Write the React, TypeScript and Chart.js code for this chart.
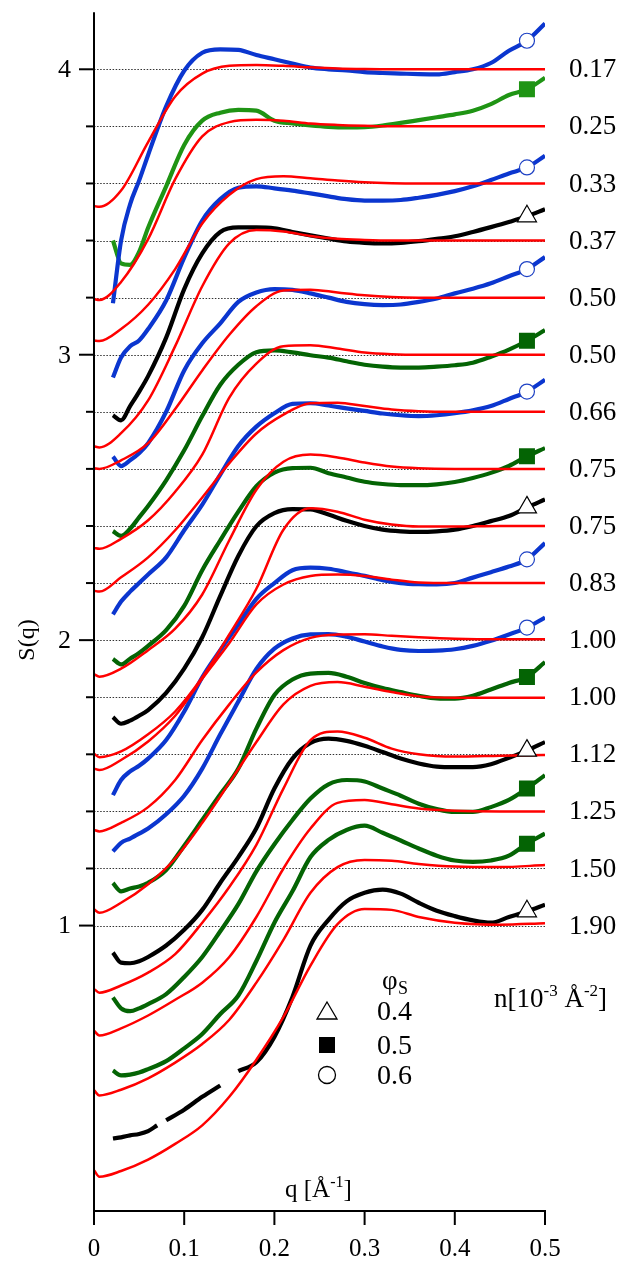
import React, { useEffect, useRef } from "react";
import { Chart, registerables } from "chart.js";

Chart.register(...registerables);

// ---------- labels / axis values ----------
const nLabels = ["0.17", "0.25", "0.33", "0.37", "0.50", "0.50", "0.66", "0.75", "0.75", "0.83", "1.00", "1.00", "1.12", "1.25", "1.50", "1.90"];
const baselineLevels = [4.0, 3.8, 3.6, 3.4, 3.2, 3.0, 2.8, 2.6, 2.4, 2.2, 2.0, 1.8, 1.6, 1.4, 1.2, 1.0];
const yTickValues = [1, 2, 3, 4];
const xTickValues = [0, 0.1, 0.2, 0.3, 0.4, 0.5];
const xTickLabels = ["0", "0.1", "0.2", "0.3", "0.4", "0.5"];
const phiLegendLabels = ["0.4", "0.5", "0.6"];
const phiLegendMarkers = ["triangle", "rect", "circle"];

const BLUE = "#0b36cf";
const GREEN_L = "#1f9414";
const GREEN_D = "#046404";
const BLACK = "#000000";
const seriesColors = [BLUE, GREEN_L, BLUE, BLACK, BLUE, GREEN_D, BLUE, GREEN_D, BLACK, BLUE, BLUE, GREEN_D, BLACK, GREEN_D, GREEN_D, BLACK];
const seriesMarkers = ["circle", "rect", "circle", "triangle", "circle", "rect", "circle", "rect", "triangle", "circle", "circle", "rect", "triangle", "rect", "rect", "triangle"];
const markerQ = 0.48;

// ---------- model curves (red), S(q) before vertical offset ----------
const qModel = [0, 0.006, 0.03, 0.06, 0.09, 0.12, 0.15, 0.18, 0.21, 0.24, 0.27, 0.30, 0.33, 0.36, 0.40, 0.45, 0.50];
const model0 = [0.521, 0.518, 0.575, 0.745, 0.905, 0.985, 1.012, 1.015, 1.012, 1.007, 1.003, 1.001, 1.0, 1.0, 1.0, 1.0, 1.0];
const model1 = [0.395, 0.392, 0.455, 0.605, 0.815, 0.965, 1.015, 1.023, 1.02, 1.01, 1.005, 1.002, 1.0, 1.0, 1.0, 1.0, 1.0];
const model2 = [0.45, 0.448, 0.49, 0.575, 0.70, 0.86, 0.96, 1.015, 1.025, 1.018, 1.01, 1.004, 1.001, 1.0, 1.0, 1.0, 1.0];
const model3 = [0.279, 0.275, 0.325, 0.44, 0.63, 0.84, 0.99, 1.037, 1.032, 1.016, 1.006, 1.002, 1.0, 1.0, 1.0, 1.0, 1.0];
const model4 = [0.402, 0.40, 0.43, 0.49, 0.61, 0.745, 0.87, 0.97, 1.025, 1.028, 1.018, 1.008, 1.002, 1.0, 1.0, 1.0, 1.0];
const model5 = [0.323, 0.32, 0.355, 0.42, 0.52, 0.65, 0.85, 0.969, 1.03, 1.033, 1.022, 1.008, 1.002, 1.0, 1.0, 1.0, 1.0];
const model6 = [0.373, 0.37, 0.42, 0.49, 0.585, 0.70, 0.82, 0.924, 0.99, 1.03, 1.032, 1.02, 1.008, 1.002, 1.0, 1.0, 1.0];
const model7 = [0.281, 0.272, 0.30, 0.365, 0.44, 0.56, 0.75, 0.927, 1.025, 1.05, 1.04, 1.022, 1.008, 1.002, 1.0, 1.0, 1.0];
const model8 = [0.202, 0.19, 0.21, 0.27, 0.35, 0.47, 0.62, 0.78, 0.987, 1.062, 1.05, 1.022, 1.005, 0.998, 0.998, 1.0, 1.0];
const model9 = [0.35, 0.345, 0.38, 0.445, 0.535, 0.665, 0.79, 0.925, 0.995, 1.025, 1.03, 1.025, 1.012, 1.002, 1.0, 1.0, 1.0];
const model10 = [0.335, 0.33, 0.36, 0.415, 0.51, 0.65, 0.775, 0.887, 0.965, 1.008, 1.02, 1.021, 1.015, 1.01, 1.005, 1.003, 1.003];
const model11 = [0.257, 0.245, 0.28, 0.345, 0.435, 0.56, 0.70, 0.843, 0.975, 1.04, 1.053, 1.037, 1.018, 1.003, 0.998, 0.998, 0.998];
const model12 = [0.178, 0.165, 0.19, 0.235, 0.30, 0.41, 0.535, 0.683, 0.88, 1.05, 1.08, 1.058, 1.02, 1.0, 0.992, 0.995, 0.998];
const model13 = [0.232, 0.215, 0.24, 0.285, 0.34, 0.40, 0.49, 0.63, 0.80, 0.94, 1.03, 1.04, 1.025, 1.01, 1.002, 1.0, 1.0];
const model14 = [0.223, 0.205, 0.225, 0.265, 0.32, 0.385, 0.47, 0.60, 0.75, 0.915, 1.005, 1.03, 1.027, 1.016, 1.007, 1.005, 1.012];
const model15 = [0.143, 0.12, 0.14, 0.18, 0.235, 0.30, 0.40, 0.53, 0.68, 0.86, 1.005, 1.058, 1.055, 1.03, 1.01, 1.003, 1.008];

// ---------- measured S(q), before vertical offset ----------
const qData = [0.021, 0.03, 0.04, 0.05, 0.06, 0.08, 0.10, 0.12, 0.14, 0.16, 0.18, 0.20, 0.22, 0.24, 0.26, 0.28, 0.30, 0.32, 0.34, 0.36, 0.38, 0.40, 0.42, 0.44, 0.46, 0.48, 0.50];
const data0 = [0.18, 0.40, 0.527, 0.61, 0.70, 0.87, 0.995, 1.058, 1.07, 1.068, 1.05, 1.035, 1.02, 1.006, 1.0, 0.996, 0.99, 0.987, 0.985, 0.983, 0.982, 0.99, 1.0, 1.022, 1.065, 1.10, 1.16];
const data1 = [0.60, 0.52, 0.515, 0.56, 0.645, 0.79, 0.935, 1.02, 1.048, 1.058, 1.055, 1.02, 1.01, 1.003, 0.998, 0.996, 0.997, 1.003, 1.012, 1.022, 1.032, 1.042, 1.055, 1.078, 1.11, 1.13, 1.17];
const data2 = [0.32, 0.39, 0.43, 0.45, 0.49, 0.59, 0.74, 0.87, 0.945, 0.985, 0.99, 0.983, 0.975, 0.965, 0.955, 0.945, 0.94, 0.94, 0.942, 0.95, 0.96, 0.973, 0.99, 1.012, 1.035, 1.056, 1.097];
const data3 = [0.388, 0.37, 0.42, 0.47, 0.525, 0.66, 0.83, 0.955, 1.03, 1.046, 1.046, 1.043, 1.03, 1.018, 1.007, 0.997, 0.992, 0.99, 0.992, 0.998, 1.006, 1.015, 1.03, 1.047, 1.065, 1.085, 1.11];
const data4 = [0.443, 0.41, 0.43, 0.455, 0.49, 0.60, 0.745, 0.84, 0.91, 0.985, 1.018, 1.03, 1.027, 1.015, 1.0, 0.985, 0.977, 0.974, 0.976, 0.985, 0.997, 1.015, 1.031, 1.05, 1.075, 1.10, 1.142];
const data5 = [0.382, 0.365, 0.39, 0.43, 0.47, 0.56, 0.665, 0.785, 0.895, 0.965, 1.009, 1.015, 1.008, 0.998, 0.99, 0.977, 0.965, 0.958, 0.955, 0.955, 0.958, 0.963, 0.972, 0.993, 1.018, 1.049, 1.086];
const data6 = [0.29, 0.335, 0.37, 0.40, 0.43, 0.49, 0.585, 0.675, 0.78, 0.88, 0.948, 0.995, 1.028, 1.03, 1.022, 1.012, 1.003, 0.994, 0.988, 0.985, 0.988, 0.995, 1.005, 1.02, 1.045, 1.071, 1.112];
const data7 = [0.334, 0.315, 0.335, 0.355, 0.38, 0.435, 0.52, 0.645, 0.75, 0.85, 0.939, 0.987, 1.003, 1.004, 0.985, 0.97, 0.955, 0.947, 0.943, 0.943, 0.946, 0.954, 0.968, 0.986, 1.01, 1.044, 1.073];
const data8 = [0.33, 0.307, 0.318, 0.335, 0.355, 0.415, 0.50, 0.61, 0.755, 0.895, 0.999, 1.045, 1.059, 1.058, 1.04, 1.018, 1.0, 0.987, 0.981, 0.979, 0.981, 0.987, 1.0, 1.017, 1.035, 1.065, 1.093];
const data9 = [0.257, 0.31, 0.34, 0.36, 0.385, 0.45, 0.55, 0.67, 0.765, 0.855, 0.945, 1.0, 1.045, 1.054, 1.05, 1.038, 1.025, 1.01, 1.0, 0.996, 0.995, 1.0, 1.019, 1.038, 1.058, 1.083, 1.14];
const data10 = [0.26, 0.29, 0.305, 0.322, 0.34, 0.39, 0.455, 0.55, 0.67, 0.785, 0.899, 0.97, 1.006, 1.02, 1.021, 1.012, 0.995, 0.978, 0.966, 0.962, 0.963, 0.968, 0.98, 0.998, 1.02, 1.044, 1.079];
const data11 = [0.349, 0.32, 0.33, 0.337, 0.35, 0.395, 0.48, 0.57, 0.66, 0.75, 0.89, 1.008, 1.062, 1.083, 1.085, 1.072, 1.05, 1.032, 1.018, 1.005, 0.996, 0.995, 1.005, 1.027, 1.05, 1.071, 1.123];
const data12 = [0.305, 0.27, 0.268, 0.275, 0.29, 0.33, 0.385, 0.455, 0.55, 0.64, 0.741, 0.88, 0.985, 1.04, 1.055, 1.047, 1.03, 1.008, 0.985, 0.968, 0.957, 0.955, 0.955, 0.965, 0.988, 1.013, 1.043];
const data13 = [0.348, 0.31, 0.30, 0.31, 0.325, 0.36, 0.42, 0.49, 0.58, 0.675, 0.79, 0.885, 0.97, 1.045, 1.095, 1.11, 1.105, 1.08, 1.055, 1.027, 1.008, 0.998, 0.998, 1.015, 1.04, 1.08, 1.127];
const data14 = [0.292, 0.275, 0.278, 0.285, 0.297, 0.325, 0.37, 0.42, 0.49, 0.555, 0.676, 0.81, 0.92, 1.04, 1.10, 1.135, 1.15, 1.125, 1.098, 1.07, 1.045, 1.028, 1.023, 1.028, 1.045, 1.087, 1.122];
const qData15 = [0.021, 0.03, 0.04, 0.05, 0.06, 0.07, 0.075, 0.08, 0.10, 0.12, 0.14, 0.15, 0.16, 0.18, 0.20, 0.22, 0.24, 0.26, 0.28, 0.30, 0.32, 0.34, 0.36, 0.38, 0.40, 0.42, 0.44, 0.46, 0.48, 0.50];
const data15 = [0.254, 0.258, 0.265, 0.27, 0.28, 0.30, null, 0.318, 0.355, 0.40, 0.44, null, 0.49, 0.521, 0.61, 0.75, 0.93, 1.02, 1.085, 1.115, 1.126, 1.112, 1.08, 1.052, 1.033, 1.018, 1.01, 1.03, 1.05, 1.073];

const modelSeries = [model0, model1, model2, model3, model4, model5, model6, model7, model8, model9, model10, model11, model12, model13, model14, model15];
const dataSeries = [data0, data1, data2, data3, data4, data5, data6, data7, data8, data9, data10, data11, data12, data13, data14, data15];
const dataQs = [qData, qData, qData, qData, qData, qData, qData, qData, qData, qData, qData, qData, qData, qData, qData, qData15];

const SERIF = '"Liberation Serif", "Times New Roman", serif';

function drawRich(ctx: CanvasRenderingContext2D, parts: { t: string; sup?: boolean }[], x: number, y: number, size: number) {
  let cx = x;
  ctx.textAlign = "left";
  ctx.textBaseline = "alphabetic";
  for (const p of parts) {
    const s = p.sup ? Math.round(size * 0.62) : size;
    ctx.font = `${s}px ${SERIF}`;
    ctx.fillText(p.t, cx, p.sup ? y - size * 0.42 : y);
    cx += ctx.measureText(p.t).width;
  }
}

function drawSymbol(ctx: CanvasRenderingContext2D, kind: string, cx: number, cy: number) {
  ctx.save();
  ctx.lineWidth = 1.3;
  ctx.strokeStyle = "#000";
  if (kind === "triangle") {
    ctx.beginPath();
    ctx.moveTo(cx, cy - 9);
    ctx.lineTo(cx + 10, cy + 8);
    ctx.lineTo(cx - 10, cy + 8);
    ctx.closePath();
    ctx.fillStyle = "#fff";
    ctx.fill();
    ctx.stroke();
  } else if (kind === "rect") {
    ctx.fillStyle = "#000";
    ctx.fillRect(cx - 8, cy - 8, 16, 16);
  } else {
    ctx.beginPath();
    ctx.arc(cx, cy, 8.5, 0, Math.PI * 2);
    ctx.fillStyle = "#fff";
    ctx.fill();
    ctx.stroke();
  }
  ctx.restore();
}

const overlayPlugin = {
  id: "overlay",
  beforeDatasetsDraw(chart: any) {
    const { ctx, scales } = chart;
    const xs = scales.x;
    const ys = scales.y;
    ctx.save();
    ctx.strokeStyle = "#333";
    ctx.lineWidth = 1;
    ctx.setLineDash([1.5, 1.6]);
    for (const b of baselineLevels) {
      const py = Math.round(ys.getPixelForValue(b)) + 0.5;
      ctx.beginPath();
      ctx.moveTo(xs.getPixelForValue(0), py);
      ctx.lineTo(xs.getPixelForValue(0.5), py);
      ctx.stroke();
    }
    ctx.restore();
  },
  afterDraw(chart: any) {
    const { ctx, scales, chartArea } = chart;
    const xs = scales.x;
    const ys = scales.y;
    const x0 = xs.getPixelForValue(0);
    const x1 = xs.getPixelForValue(0.5);
    const yb = ys.getPixelForValue(0);
    ctx.save();
    ctx.strokeStyle = "#000";
    ctx.fillStyle = "#000";
    ctx.lineWidth = 2;
    // axis lines
    ctx.beginPath();
    ctx.moveTo(x0, chartArea.top);
    ctx.lineTo(x0, yb + 1);
    ctx.stroke();
    ctx.beginPath();
    ctx.moveTo(x0 - 1, yb);
    ctx.lineTo(x1 + 1, yb);
    ctx.stroke();
    // x ticks
    xTickValues.forEach((v, i) => {
      const px = xs.getPixelForValue(v);
      ctx.beginPath();
      ctx.moveTo(px, yb);
      ctx.lineTo(px, yb + 14);
      ctx.stroke();
      ctx.font = `25px ${SERIF}`;
      ctx.textAlign = "center";
      ctx.textBaseline = "middle";
      ctx.fillText(xTickLabels[i], px, yb + 38);
    });
    // y ticks (major at integers, minor at offsets)
    for (const b of baselineLevels) {
      const py = ys.getPixelForValue(b);
      const major = yTickValues.includes(b);
      ctx.beginPath();
      ctx.moveTo(x0 - (major ? 15 : 8), py);
      ctx.lineTo(x0, py);
      ctx.stroke();
    }
    ctx.font = `26px ${SERIF}`;
    ctx.textAlign = "right";
    ctx.textBaseline = "middle";
    for (const v of yTickValues) {
      ctx.fillText(String(v), x0 - 23, ys.getPixelForValue(v) + 1);
    }
    // right-hand n labels
    ctx.font = `27px ${SERIF}`;
    ctx.textAlign = "left";
    ctx.textBaseline = "middle";
    baselineLevels.forEach((b, i) => {
      ctx.fillText(nLabels[i], x1 + 24, ys.getPixelForValue(b) + 1);
    });
    // y title
    ctx.save();
    ctx.translate(28, 640);
    ctx.rotate(-Math.PI / 2);
    ctx.font = `24px ${SERIF}`;
    ctx.textAlign = "center";
    ctx.textBaseline = "middle";
    ctx.fillText("S(q)", 0, 0);
    ctx.restore();
    // x title
    drawRich(ctx, [{ t: "q [Å" }, { t: "-1", sup: true }, { t: "]" }], 285, 1197, 25);
    // n units
    drawRich(ctx, [{ t: "n[10" }, { t: "-3", sup: true }, { t: " Å" }, { t: "-2", sup: true }, { t: "]" }], 494, 1007, 27);
    // phi_S legend
    ctx.font = `27px ${SERIF}`;
    ctx.textAlign = "left";
    ctx.textBaseline = "alphabetic";
    ctx.fillText("φ", 382, 989);
    ctx.font = `18px ${SERIF}`;
    ctx.fillText("S", 398, 994);
    const legendY = [1011, 1045, 1075];
    phiLegendLabels.forEach((lab, i) => {
      drawSymbol(ctx, phiLegendMarkers[i], 327, legendY[i]);
      ctx.font = `28px ${SERIF}`;
      ctx.textAlign = "left";
      ctx.textBaseline = "middle";
      ctx.fillText(lab, 377, legendY[i] + 2);
    });
    ctx.restore();
  },
};

export default function App() {
  const canvasRef = useRef<HTMLCanvasElement | null>(null);

  useEffect(() => {
    if (!canvasRef.current) return;
    const datasets: any[] = [];

    baselineLevels.forEach((b, k) => {
      const off = b - 1;
      const qs = dataQs[k];
      const vals = dataSeries[k];
      datasets.push({
        label: "data " + nLabels[k],
        data: qs.map((q, i) => ({ x: q, y: vals[i] == null ? null : (vals[i] as number) + off })),
        borderColor: seriesColors[k],
        backgroundColor: seriesColors[k],
        borderWidth: 4.2,
        pointRadius: 0,
        fill: false,
        spanGaps: false,
        cubicInterpolationMode: "monotone",
        order: 3,
      });
    });

    baselineLevels.forEach((b, k) => {
      const off = b - 1;
      const vals = modelSeries[k];
      datasets.push({
        label: "model " + nLabels[k],
        data: qModel.map((q, i) => ({ x: q, y: vals[i] + off })),
        borderColor: "#ff0000",
        borderWidth: 2.5,
        pointRadius: 0,
        fill: false,
        cubicInterpolationMode: "monotone",
        order: 2,
      });
    });

    // end-of-curve symbols (phi_S markers)
    const markerPts = baselineLevels.map((b, k) => {
      const idx = dataQs[k].indexOf(markerQ);
      return { x: markerQ, y: (dataSeries[k][idx] as number) + (b - 1) };
    });
    datasets.push({
      label: "markers",
      data: markerPts,
      showLine: false,
      pointStyle: seriesMarkers,
      pointRadius: seriesMarkers.map((m) => (m === "rect" ? 11.3 : m === "triangle" ? 11 : 7.5)),
      pointBackgroundColor: seriesMarkers.map((m, k) => (m === "rect" ? seriesColors[k] : "#ffffff")),
      pointBorderColor: seriesMarkers.map((m, k) => (m === "rect" ? seriesColors[k] : m === "circle" ? "#1f42c4" : "#000000")),
      pointBorderWidth: seriesMarkers.map((m) => (m === "rect" ? 0 : 1.2)),
      order: 1,
    });

    const chart = new Chart(canvasRef.current, {
      type: "line",
      data: { datasets },
      options: {
        animation: false,
        responsive: false,
        maintainAspectRatio: false,
        layout: { padding: { left: 94, right: 98, top: 7, bottom: 51 } },
        plugins: { legend: { display: false }, tooltip: { enabled: false } },
        scales: {
          x: { type: "linear", min: 0, max: 0.5, display: false },
          y: { type: "linear", min: 0, max: 4.2, display: false },
        },
      },
      plugins: [overlayPlugin],
    } as any);

    return () => chart.destroy();
  }, []);

  return (
    <div style={{ position: "absolute", left: 0, top: 0, width: 643, height: 1262, background: "#fff" }}>
      <canvas ref={canvasRef} width={643} height={1262} style={{ width: 643, height: 1262, display: "block" }} />
    </div>
  );
}
